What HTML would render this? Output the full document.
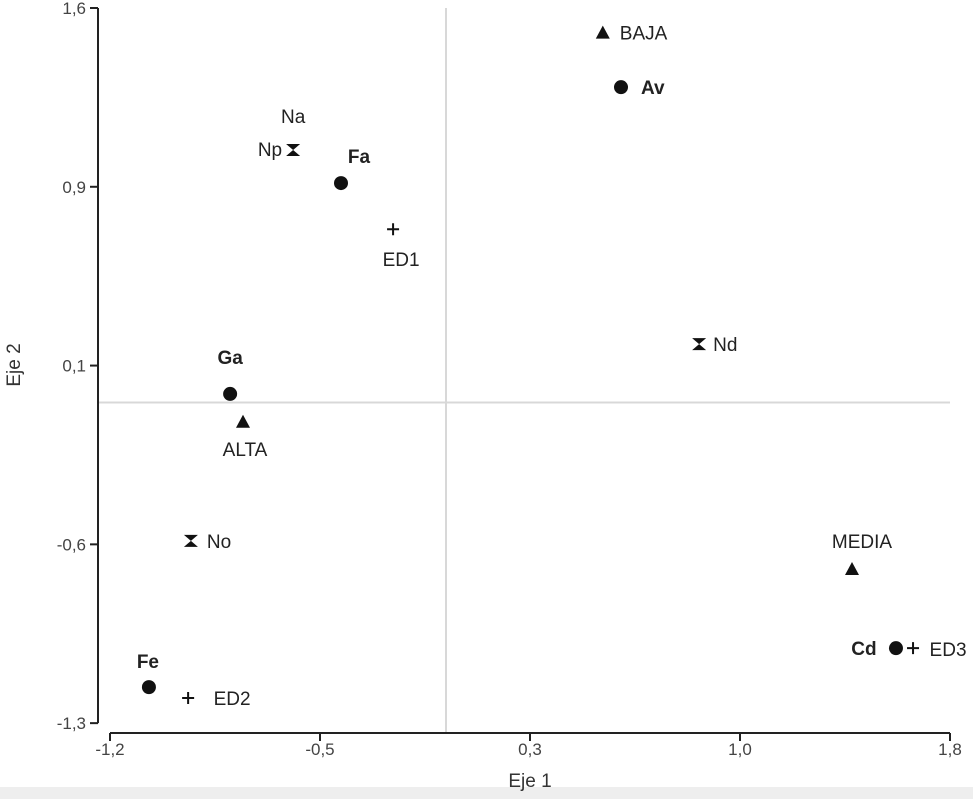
<!DOCTYPE html>
<html><head><meta charset="utf-8"><style>
body{margin:0;background:#fff;}
svg{display:block;font-family:"Liberation Sans",sans-serif;}
</style></head><body>
<svg id="chart" width="973" height="799">
<rect x="0" y="0" width="973" height="799" fill="#fff"/>
<rect x="0" y="787" width="973" height="12" fill="#eee"/>
<g id="axes"></g><g id="marks"></g>
</svg>
<script>
const labels=["BAJA","Av","Np","Fa","ED1","Nd","Ga","ALTA","No","MEDIA","Cd","ED3","Fe","ED2"];
const xs=[0.56,0.625,-0.546,-0.375,-0.189,0.904,-0.771,-0.725,-0.911,1.45,1.607,1.668,-1.061,-0.921];
const ys=[1.50,1.279,1.024,0.890,0.703,0.237,0.035,-0.078,-0.561,-0.675,-0.996,-0.996,-1.154,-1.198];
const kinds=["tri","dot","hg","dot","plus","hg","dot","tri","hg","tri","dot","plus","dot","plus"];
const xTickVals=[-1.2,-0.45,0.3,1.05,1.8];
const xTickLabels=["-1,2","-0,5","0,3","1,0","1,8"];
const yTickVals=[1.6,0.875,0.15,-0.575,-1.3];
const yTickLabels=["1,6","0,9","0,1","-0,6","-1,3"];
const X=v=>110+(v+1.2)*280;
const Y=v=>8+(1.6-v)*246.6;
const NS="http://www.w3.org/2000/svg";
function mk(t,a,p){const e=document.createElementNS(NS,t);for(const k in a)e.setAttribute(k,a[k]);p.appendChild(e);return e;}
const ax=document.getElementById('axes'),mg=document.getElementById('marks');
let l=mk('line',{x1:X(0),x2:X(0),y1:8,y2:733,stroke:'#d8d8d8','stroke-width':2},ax);


l=mk('line',{x1:98,x2:950,y1:Y(0),y2:Y(0),stroke:'#d8d8d8','stroke-width':2},ax);


l=mk('line',{x1:98,x2:98,y1:Y(1.6),y2:Y(-1.3),stroke:'#222','stroke-width':2},ax);


yTickVals.forEach((v,i)=>{
 mk('line',{x1:90,x2:98,y1:Y(v),y2:Y(v),stroke:'#222','stroke-width':2},ax);
 const t=mk('text',{x:86,y:Y(v)+6,'text-anchor':'end','font-size':17,fill:'#444'},ax);t.textContent=yTickLabels[i];
 
 
});
l=mk('line',{x1:X(-1.2),x2:X(1.8),y1:733,y2:733,stroke:'#222','stroke-width':2},ax);


xTickVals.forEach((v,i)=>{
 mk('line',{x1:X(v),x2:X(v),y1:733,y2:741,stroke:'#222','stroke-width':2},ax);
 const t=mk('text',{x:X(v),y:755,'text-anchor':'middle','font-size':17,fill:'#444'},ax);t.textContent=xTickLabels[i];
 
 
});
let t=mk('text',{x:530,y:787,'text-anchor':'middle','font-size':19,fill:'#333'},ax);t.textContent='Eje 1';


t=mk('text',{x:0,y:0,'text-anchor':'middle','font-size':19,fill:'#333',transform:'translate(20,365) rotate(-90)'},ax);t.textContent='Eje 2';


const lo={BAJA:[17,7,'start',0],Av:[20,7,'start',1],Np:[-11,6,'end',0],Fa:[18,-20,'middle',1],ED1:[8,37,'middle',0],Nd:[14,7,'start',0],Ga:[0,-30,'middle',1],ALTA:[2,34,'middle',0],No:[16,7,'start',0],MEDIA:[10,-21,'middle',0],Cd:[-32,7,'middle',1],ED3:[35,8,'middle',0],Fe:[-1,-19,'middle',1],ED2:[44,7,'middle',0]};
labels.forEach((n,i)=>{
 const cx=X(xs[i]),cy=Y(ys[i]);let m;
 if(kinds[i]=='dot')m=mk('circle',{cx,cy,r:7,fill:'#111'},mg);
 else if(kinds[i]=='tri')m=mk('polygon',{points:`${cx},${cy-7} ${cx-7},${cy+6} ${cx+7},${cy+6}`,fill:'#111'},mg);
 else if(kinds[i]=='hg')m=mk('polygon',{points:`${cx-7},${cy-6} ${cx+7},${cy-6} ${cx},${cy} ${cx+7},${cy+6} ${cx-7},${cy+6} ${cx},${cy}`,fill:'#111'},mg);
 else m=mk('path',{d:`M${cx-6},${cy}H${cx+6}M${cx},${cy-6}V${cy+6}`,stroke:'#111','stroke-width':2},mg);
 
 
 const o=lo[n];
 const tx=mk('text',{x:cx+o[0],y:cy+o[1],'text-anchor':o[2],'font-size':19,fill:'#222','font-weight':o[3]?'bold':'normal'},mg);tx.textContent=n;
 
 
});
t=mk('text',{x:X(-0.546),y:Y(1.024)-27,'text-anchor':'middle','font-size':19,fill:'#222'},mg);t.textContent='Na';


</script>
</body></html>
